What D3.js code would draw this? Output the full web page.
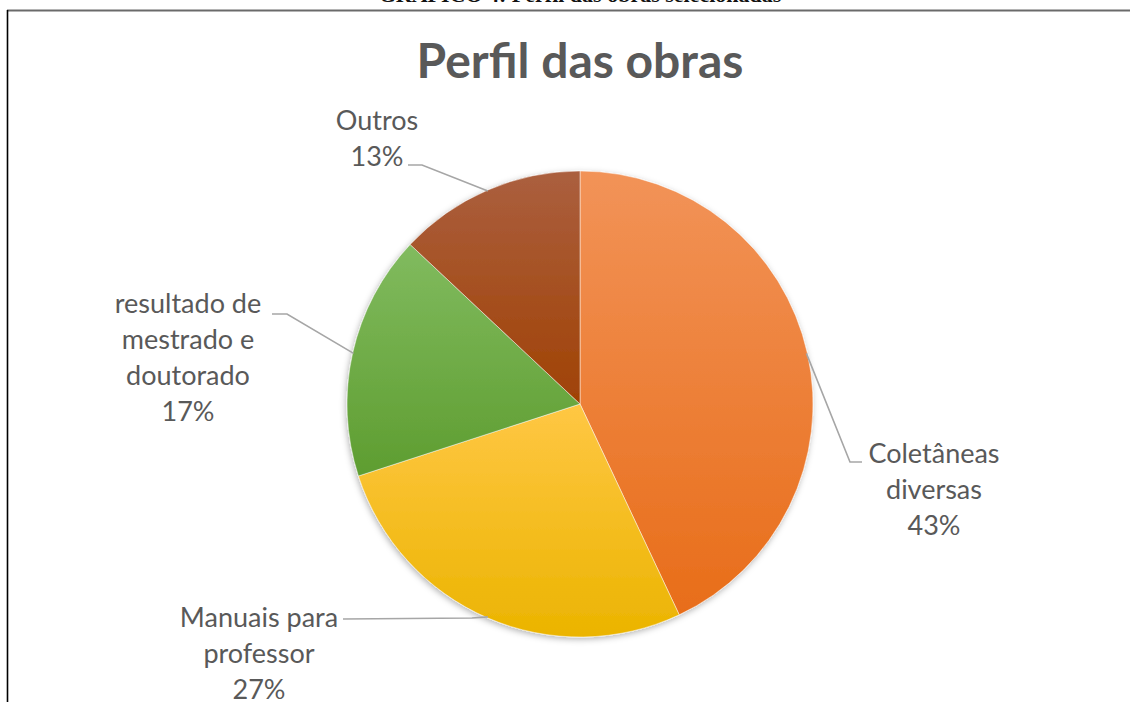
<!DOCTYPE html>
<html>
<head>
<meta charset="utf-8">
<script src="https://cdn.jsdelivr.net/npm/d3@7"></script>
<style>
  body { margin: 0; background: #fff; }
  svg { display: block; }
</style>
</head>
<body>
<div id="chart"></div>
<script>
// --- Data ---
const categories = ["Coletâneas diversas", "Manuais para professor", "resultado de mestrado e doutorado", "Outros"];
const values = [43, 27, 17, 13];
const labelLines = [
  ["Coletâneas", "diversas"],
  ["Manuais para", "professor"],
  ["resultado de", "mestrado e", "doutorado"],
  ["Outros"]
];
const colorsTop = ["#f29358", "#ffc744", "#81bb5f", "#ab5f3f"];
const colorsBottom = ["#e86d19", "#ebb400", "#5e9d30", "#a04204"];

// label layout: text center/first baseline, leader elbow and end
const labelLayout = [
  { x: 934, y: 463, elbow: [850, 462], end: [862, 462] },
  { x: 259, y: 627, elbow: [472, 618], end: [343, 619] },
  { x: 188, y: 313, elbow: [287, 314], end: [272, 314] },
  { x: 377, y: 130, elbow: [422, 165], end: [408, 165] }
];

const width = 1130, height = 704;
const cx = 580, cy = 404, radius = 233;
const lineH = 36;

const svg = d3.select("#chart").append("svg")
  .attr("width", width)
  .attr("height", height);

const defs = svg.append("defs");
const shadow = defs.append("filter").attr("id", "shadow")
  .attr("x", "-20%").attr("y", "-20%").attr("width", "140%").attr("height", "140%");
shadow.append("feDropShadow")
  .attr("dx", -1).attr("dy", 2).attr("stdDeviation", 3)
  .attr("flood-color", "#000").attr("flood-opacity", 0.3);

categories.forEach((c, i) => {
  const g = defs.append("linearGradient").attr("id", "grad" + i)
    .attr("x1", 0).attr("y1", 0).attr("x2", 0).attr("y2", 1);
  g.append("stop").attr("offset", "0%").attr("stop-color", colorsTop[i]);
  g.append("stop").attr("offset", "100%").attr("stop-color", colorsBottom[i]);
});

// --- Caption (cut off at the top, as in the scan) ---
svg.append("text")
  .attr("x", cx).attr("y", 2)
  .attr("text-anchor", "middle")
  .style("font-family", "'Liberation Serif', serif")
  .style("font-weight", "bold")
  .style("font-size", "22px")
  .attr("fill", "#111")
  .text("GRÁFICO 4: Perfil das obras selecionadas");

// --- Frame ---
svg.append("line")
  .attr("x1", 7).attr("x2", width).attr("y1", 10.5).attr("y2", 10.5)
  .attr("stroke", "#6a6a6a").attr("stroke-width", 2);
svg.append("line")
  .attr("x1", 7.5).attr("x2", 7.5).attr("y1", 10).attr("y2", 702)
  .attr("stroke", "#000").attr("stroke-width", 1.6);

// --- Title ---
svg.append("text")
  .attr("x", cx).attr("y", 78)
  .attr("text-anchor", "middle")
  .style("font-family", "Lato, sans-serif")
  .style("font-weight", "bold")
  .style("font-size", "48px")
  .attr("fill", "#595959")
  .text("Perfil das obras");

// --- Pie ---
const pie = d3.pie().sort(null).value(d => d);
const arcs = pie(values);
const arc = d3.arc().innerRadius(0).outerRadius(radius);

const g = svg.append("g").attr("transform", `translate(${cx},${cy})`);

g.append("g").attr("filter", "url(#shadow)")
  .selectAll("path")
  .data(arcs)
  .enter()
  .append("path")
  .attr("d", arc)
  .attr("fill", (d, i) => `url(#grad${i})`)
  .attr("stroke", "rgba(255,255,255,0.6)")
  .attr("stroke-width", 0.8);

// --- Leader lines ---
const pt = (a, r) => [cx + r * Math.sin(a), cy - r * Math.cos(a)];
svg.append("g").selectAll("polyline")
  .data(arcs)
  .enter()
  .append("polyline")
  .attr("points", (d, i) => {
    const mid = (d.startAngle + d.endAngle) / 2;
    const p = pt(mid, radius - 1);
    const L = labelLayout[i];
    return [p, L.elbow, L.end].map(q => q.join(",")).join(" ");
  })
  .attr("fill", "none")
  .attr("stroke", "#a6a6a6")
  .attr("stroke-width", 1.6);

// --- Labels ---
const total = d3.sum(values);
const labels = svg.append("g")
  .style("font-family", "Lato, sans-serif")
  .style("font-size", "27px")
  .attr("fill", "#595959")
  .attr("text-anchor", "middle");

arcs.forEach((d, i) => {
  const L = labelLayout[i];
  const lines = labelLines[i].concat([Math.round(d.value / total * 100) + "%"]);
  const t = labels.append("text").attr("x", L.x).attr("y", L.y);
  lines.forEach((s, k) => {
    t.append("tspan").attr("x", L.x).attr("y", L.y + k * lineH).text(s);
  });
});
</script>
</body>
</html>
